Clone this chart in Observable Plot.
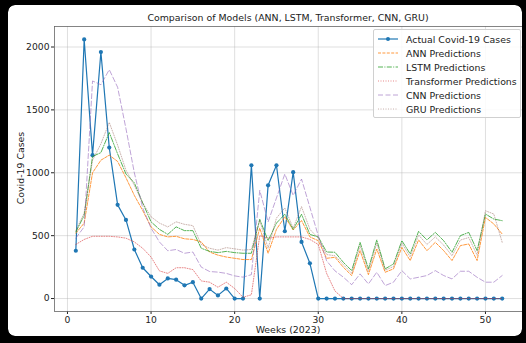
<!DOCTYPE html>
<html><head><meta charset="utf-8">
<script src="https://cdn.jsdelivr.net/npm/d3@7"></script>
<script src="https://cdn.jsdelivr.net/npm/@observablehq/plot@0.6"></script>
<style>
html,body{margin:0;padding:0;background:#000;}
#wrap{position:relative;width:526px;height:343px;overflow:hidden;background:#000;font-family:"DejaVu Sans",sans-serif;color:#222;}
#bg{position:absolute;left:8px;top:5px;width:514px;height:331px;background:#fff;border-radius:7px;}
#chart{position:absolute;left:0;top:0;}
#overlay{position:absolute;left:8px;top:5px;width:514px;height:331px;border-radius:7px;box-shadow:0 0 0 30px #000;pointer-events:none;}
.txt{position:absolute;white-space:nowrap;font-size:9.4px;line-height:1;}
#legend{position:absolute;left:373px;top:29px;width:146px;height:87px;border:1px solid #d0d0d0;border-radius:2px;background:rgba(255,255,255,0.85);}
.row{position:absolute;left:3px;height:12px;display:flex;align-items:center;}
.row svg{width:22px;height:8px;margin-right:7px;}
.row span{font-size:9.4px;}
</style></head>
<body>
<div id="wrap">
  <div id="bg"></div>
  <div id="chart"></div>
  <div class="txt" id="title" style="left:288px;top:13px;transform:translateX(-50%);">Comparison of Models (ANN, LSTM, Transformer, CNN, GRU)</div>
  <div class="txt" id="ylab" style="left:21px;top:168px;transform:translate(-50%,-50%) rotate(-90deg);">Covid-19 Cases</div>
  <div class="txt" id="xlab" style="left:288px;top:324.5px;transform:translateX(-50%);">Weeks (2023)</div>
  <div id="legend"></div>
  <div id="overlay"></div>
</div>
<script>
const weeks = [1,2,3,4,5,6,7,8,9,10,11,12,13,14,15,16,17,18,19,20,21,22,23,24,25,26,27,28,29,30,31,32,33,34,35,36,37,38,39,40,41,42,43,44,45,46,47,48,49,50,51,52];
const actual = [380,2060,1140,1960,1200,745,625,390,245,175,110,160,150,105,130,0,75,25,80,0,0,1060,0,900,1060,535,1005,450,280,0,0,0,0,0,0,0,0,0,0,0,0,0,0,0,0,0,0,0,0,0,0,0];
const ann = [520,600,1000,1100,1140,1090,960,820,700,570,510,490,495,475,470,450,370,345,330,320,310,310,560,360,550,650,545,620,490,460,320,328,249,183,381,190,394,209,236,407,302,466,381,447,381,302,421,434,302,645,593,513];
const lstm = [530,660,1130,1160,1320,1150,990,920,760,610,550,510,570,540,540,400,375,365,375,365,360,360,630,460,600,670,550,670,510,490,370,368,288,222,447,236,466,236,275,460,355,534,466,526,460,368,500,526,381,672,632,619];
const transformer = [430,470,495,495,495,490,480,450,400,330,220,200,245,245,230,140,130,90,130,80,10,30,500,480,490,490,490,490,470,430,200,60,0,0,0,0,0,0,0,0,0,0,0,0,0,0,0,0,0,0,0,0];
const cnn = [480,570,1730,1700,1820,1680,1350,1000,720,560,450,380,390,360,370,250,215,210,200,180,170,190,860,610,800,990,820,950,725,500,300,220,170,110,196,116,209,103,130,222,156,169,183,222,183,156,217,217,169,130,130,183];
const gru = [540,680,1100,1230,1400,1220,1020,900,760,650,600,570,610,590,580,430,400,385,405,395,385,390,620,400,640,720,560,730,550,480,350,340,270,200,420,215,440,225,255,440,330,505,430,490,425,340,465,485,345,698,672,447];
const xTicks = [0,10,20,30,40,50];
const yTicks = [0,500,1000,1500,2000];
const seriesNames = ["Actual Covid-19 Cases","ANN Predictions","LSTM Predictions","Transformer Predictions","CNN Predictions","GRU Predictions"];

const styles = [
  {name:seriesNames[1], data:ann, stroke:"#ff7f0e", dash:"3,1.4", op:0.8},
  {name:seriesNames[2], data:lstm, stroke:"#2ca02c", dash:"5,1.4,1,1.4", op:0.8},
  {name:seriesNames[3], data:transformer, stroke:"#d62728", dash:"1,1.5", op:0.55},
  {name:seriesNames[4], data:cnn, stroke:"#9467bd", dash:"5,2.5", op:0.6},
  {name:seriesNames[5], data:gru, stroke:"#8c564b", dash:"1,1.5", op:0.45}
];
const actualRows = weeks.map((w,i)=>({week:w, value:actual[i]}));

const marks = [
  Plot.gridX(xTicks, {stroke:"#b0b0b0", strokeOpacity:0.5, strokeWidth:0.8}),
  Plot.gridY(yTicks, {stroke:"#b0b0b0", strokeOpacity:0.5, strokeWidth:0.8}),
  Plot.axisX(xTicks, {tickSize:3, tickPadding:2, fontSize:9.2, label:null, tickFormat:d3.format("d")}),
  Plot.axisY(yTicks, {tickSize:3, tickPadding:2, fontSize:9.2, label:null, tickFormat:d3.format("d")}),
  Plot.line(actualRows, {x:"week", y:"value", stroke:"#1f77b4", strokeWidth:1.2}),
  Plot.dot(actualRows, {x:"week", y:"value", fill:"#1f77b4", r:2.1})
];
for (const s of styles) {
  const rows = weeks.map((w,i)=>({week:w, value:s.data[i]}));
  marks.push(Plot.line(rows, {x:"week", y:"value", stroke:s.stroke, strokeWidth:1, strokeDasharray:s.dash, strokeOpacity:s.op}));
}
marks.push(Plot.frame({stroke:"#666", strokeWidth:0.8}));

const chart = Plot.plot({
  width:526, height:343,
  marginLeft:54, marginRight:3, marginTop:26, marginBottom:32,
  x:{domain:[-1.55,54.55]},
  y:{domain:[-103,2163]},
  style:{background:"transparent", fontFamily:"DejaVu Sans", fontSize:"9.2px", color:"#222"},
  marks
});
document.getElementById("chart").appendChild(chart);

// legend
const leg = document.getElementById("legend");
const legendItems = [{name:seriesNames[0], stroke:"#1f77b4", dash:null, op:1, marker:true}].concat(styles);
legendItems.forEach((s,i)=>{
  const row = document.createElement("div");
  row.className = "row";
  row.style.top = (3 + i*14) + "px";
  const dash = s.dash ? `stroke-dasharray="${s.dash}"` : "";
  row.innerHTML = `<svg viewBox="0 0 22 8"><line x1="1" y1="4" x2="21" y2="4" stroke="${s.stroke}" stroke-width="${s.marker?1.2:1}" stroke-opacity="${s.op}" ${dash}/>${s.marker?`<circle cx="11" cy="4" r="2" fill="${s.stroke}"/>`:""}</svg><span>${s.name}</span>`;
  leg.appendChild(row);
});
</script>
</body></html>
